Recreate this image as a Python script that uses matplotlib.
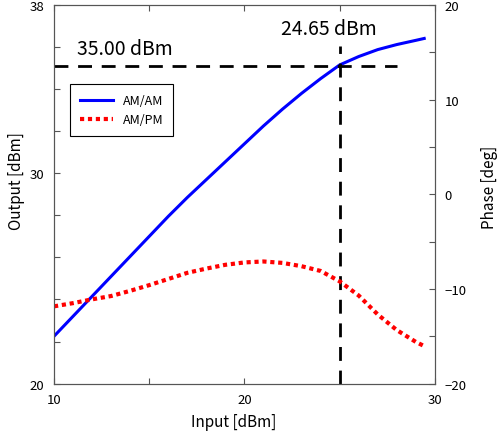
import matplotlib
matplotlib.use("Agg")
import matplotlib.pyplot as plt

plt.rcParams['font.family'] = ['Noto Sans CJK JP', 'DejaVu Sans']

# AM/AM curve (input dBm -> output dBm)
am_x = [10, 11, 12, 13, 14, 15, 16, 17, 18, 19, 20, 21, 22, 23, 24, 25, 26, 27, 28, 29, 29.44]
am_y = [22.25, 23.2, 24.15, 25.1, 26.05, 27.0, 27.95, 28.85, 29.7, 30.55, 31.4, 32.25,
        33.05, 33.8, 34.5, 35.15, 35.55, 35.88, 36.12, 36.32, 36.41]

# AM/PM curve (input dBm -> phase deg)
pm_x = [10, 11, 12, 13, 14, 15, 16, 17, 18, 19, 20, 21, 22, 23, 24, 25, 26, 27, 28, 29, 29.4]
pm_y = [-11.84, -11.5, -11.1, -10.75, -10.2, -9.6, -8.95, -8.3, -7.85, -7.45, -7.2, -7.1,
        -7.25, -7.6, -8.1, -9.2, -10.7, -12.7, -14.35, -15.6, -16.0]

p_sat_out = 35.1
p_sat_in = 25.0

fig = plt.figure(figsize=(4.97, 4.39), dpi=100)
ax = fig.add_axes([0.1087, 0.124, 0.7663, 0.8623])
ax2 = ax.twinx()

l1, = ax.plot(am_x, am_y, color='#0000ff', lw=2.2, label='AM/AM')
l2, = ax2.plot(pm_x, pm_y, color='#ff0000', lw=3, linestyle=(0, (1, 0.9)), label='AM/PM')

ax.plot([10, 28], [p_sat_out, p_sat_out], 'k', lw=2, dashes=(5, 3.5))
ax.plot([p_sat_in, p_sat_in], [20, 36.05], 'k', lw=2, dashes=(5, 3.5))
ax.text(11.2, 35.91, '35.00 dBm', fontsize=14, va='center')
ax.text(21.9, 36.9, '24.65 dBm', fontsize=14, va='center')

ax.set_xlim(10, 30)
ax.set_ylim(20, 38)
ax2.set_ylim(-20, 20)

ax.set_xticks([10, 15, 20, 25, 30], ['10', '', '20', '', '30'])
ax.set_yticks([20, 22, 24, 26, 28, 30, 32, 34, 36, 38],
              ['20', '', '', '', '', '30', '', '', '', '38'])
ax2.set_yticks([-20, -15, -10, -5, 0, 5, 10, 15, 20],
               ['\u221220', '', '\u221210', '', '0', '', '10', '', '20'])

ax.tick_params(direction='in', length=4, labelsize=9.5, top=True, color='#555555', pad=7)
ax2.tick_params(direction='in', length=4, labelsize=9.5, color='#555555', pad=7)
for a in (ax, ax2):
    for s in a.spines.values():
        s.set_color('#555555')

ax.set_xlabel('Input [dBm]', fontsize=11)
ax.set_ylabel('Output [dBm]', fontsize=11)
ax2.set_ylabel('Phase [deg]', fontsize=11)
ax.xaxis.set_label_coords(0.472, -0.078)
ax.yaxis.set_label_coords(-0.075, 0.538)
ax2.yaxis.set_label_coords(1.122, 0.52)

leg = ax.legend([l1, l2], ['AM/AM', 'AM/PM'], loc='upper left',
                bbox_to_anchor=(0.042, 0.791), borderaxespad=0, fontsize=9,
                fancybox=False, edgecolor='black', framealpha=1, handlelength=2.6,
                borderpad=0.8, labelspacing=0.5)
leg.get_frame().set_linewidth(0.8)

fig.savefig('out.png', dpi=100)
